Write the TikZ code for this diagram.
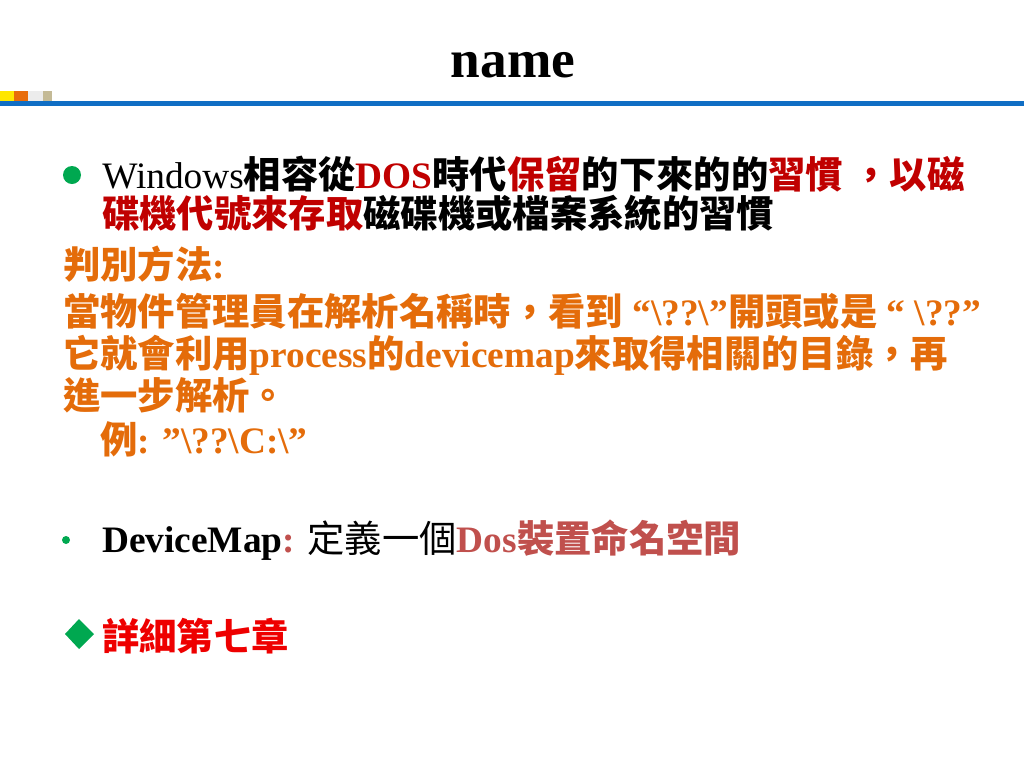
\documentclass[tikz,border=0pt]{standalone}
\usepackage{fontspec}
\usepackage{xcolor}
\setmainfont{Liberation Serif}
\newfontfamily\cjkfont{Noto Sans CJK TC}

\definecolor{barblue}{RGB}{16,110,196}
\definecolor{sqyellow}{RGB}{255,230,0}
\definecolor{sqorange}{RGB}{232,108,10}
\definecolor{sqgrey}{RGB}{236,236,236}
\definecolor{sqtan}{RGB}{196,186,150}
\definecolor{dosred}{RGB}{192,0,0}
\definecolor{hintorange}{RGB}{228,108,10}
\definecolor{mapred}{RGB}{192,80,77}
\definecolor{chapred}{RGB}{238,0,0}
\definecolor{bulgreen}{RGB}{0,168,80}

\newcommand{\zh}[1]{{\cjkfont\bfseries #1}}
\newcommand{\rd}[1]{{\color{dosred}#1}}

\tikzset{
  line/.style={anchor=base west, inner sep=0pt, font=\fontsize{28}{33}\selectfont},
  hint/.style={line, text=hintorange, font=\bfseries\fontsize{28}{33}\selectfont},
}

\begin{document}
\begin{tikzpicture}[x=0.75pt,y=-0.75pt]
  \useasboundingbox (0,0) rectangle (1024,768);
  % title bar
  \node[anchor=base, inner sep=0pt, font=\bfseries\fontsize{40}{48}\selectfont] at (513,77) (title) {name};
  \fill[sqyellow] (0,91) rectangle (14,101);
  \fill[sqorange] (14,91) rectangle (28,101);
  \fill[sqgrey] (28,91) rectangle (43,101);
  \fill[sqtan] (43,91) rectangle (52,101);
  \fill[barblue] (0,101) rectangle (1024,106);

  % first bullet
  \fill[bulgreen] (72,175) circle (9);
  \node[line] at (102,188) (l1) {Windows\zh{相容從}\rd{\textbf{DOS}}\zh{時代}\rd{\zh{保留}}\zh{的下來的的}\rd{\zh{習慣}} \rd{\zh{，以磁}}};
  \node[line] at (102,227) (l2) {\rd{\zh{碟機代號來存取}}\zh{磁碟機或檔案系統的習慣}};

  % how to tell
  \node[hint] at (63,278) (h0) {\zh{判別方法}:};
  \node[hint] at (63,325) (h1) {\zh{當物件管理員在解析名稱時，看到} “\textbackslash??\textbackslash”\zh{開頭或是} “ \textbackslash??”};
  \node[hint] at (63,367) (h2) {\zh{它就會利用}process\zh{的}devicemap\zh{來取得相關的目錄，再}};
  \node[hint] at (63,409) (h3) {\zh{進一步解析。}};
  \node[hint] at (100,453) (h4) {\zh{例}: ”\textbackslash??\textbackslash C:\textbackslash”};

  % devicemap
  \fill[bulgreen] (66,540) circle (4);
  \node[line] at (102,552) (dm) {\textbf{DeviceMap}{\color{mapred}\textbf{:}} {\cjkfont 定義一個}{\color{mapred}\textbf{Dos}\zh{裝置命名空間}}};

  % chapter
  \fill[bulgreen] (65,634) -- (79,619) -- (94,634) -- (79,649) -- cycle;
  \node[line, text=chapred] at (102,650) (ch) {\zh{詳細第七章}};
\end{tikzpicture}
\end{document}
